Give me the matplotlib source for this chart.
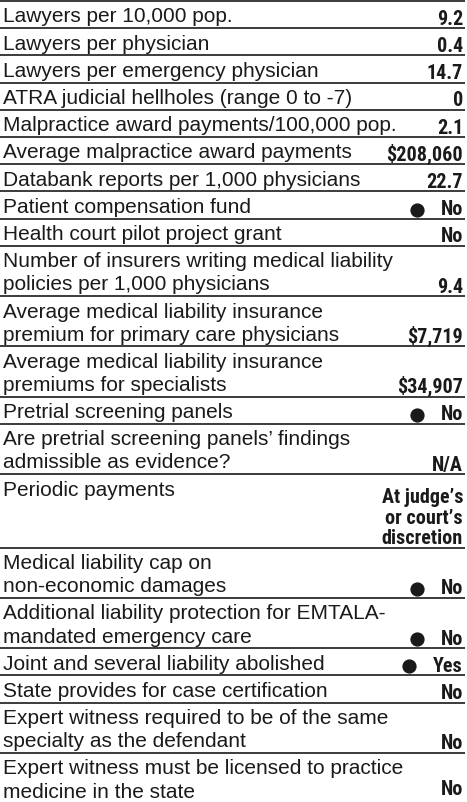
import matplotlib
matplotlib.use("Agg")
import matplotlib.pyplot as plt
from matplotlib import font_manager

# rows of the state scorecard table
labels = [
    "Lawyers per 10,000 pop.",
    "Lawyers per physician",
    "Lawyers per emergency physician",
    "ATRA judicial hellholes (range 0 to -7)",
    "Malpractice award payments/100,000 pop.",
    "Average malpractice award payments",
    "Databank reports per 1,000 physicians",
    "Patient compensation fund",
    "Health court pilot project grant",
    "Number of insurers writing medical liability\npolicies per 1,000 physicians",
    "Average medical liability insurance\npremium for primary care physicians",
    "Average medical liability insurance\npremiums for specialists",
    "Pretrial screening panels",
    "Are pretrial screening panels\u2019 findings\nadmissible as evidence?",
    "Periodic payments",
    "Medical liability cap on\nnon-economic damages",
    "Additional liability protection for EMTALA-\nmandated emergency care",
    "Joint and several liability abolished",
    "State provides for case certification",
    "Expert witness required to be of the same\nspecialty as the defendant",
    "Expert witness must be licensed to practice\nmedicine in the state",
]
values = [
    "9.2", "0.4", "14.7", "0", "2.1", "$208,060", "22.7", "No", "No",
    "9.4", "$7,719", "$34,907", "No", "N/A",
    "At judge\u2019s\nor court\u2019s\ndiscretion",
    "No", "No", "Yes", "No", "No", "No",
]
has_dot = [False, False, False, False, False, False, False, True, False,
           False, False, False, True, False, False, True, True, True,
           False, False, False]

W, H = 467, 802
ROW1 = 27.2      # height of a one-line row (px)
ROWX = 23.1      # extra height per extra line
INK = "#1a1a1a"

# pick a bold condensed face for the values if one is installed
names = {f.name for f in font_manager.fontManager.ttflist}
val_font = dict(family="DejaVu Sans", fontstretch="condensed", fontsize=13)
for cand in ["Roboto Condensed", "Liberation Sans Narrow", "Open Sans Condensed",
             "DejaVu Sans Condensed"]:
    if cand in names:
        val_font = dict(family=cand, fontsize=14.5)
        break

fig = plt.figure(figsize=(W / 100, H / 100), dpi=100)
ax = fig.add_axes([0, 0, 1, 1])
ax.set_xlim(0, W)
ax.set_ylim(H, 0)
ax.axis("off")
renderer = fig.canvas.get_renderer()

top = 1.0
ax.plot([0, 465], [top, top], color=INK, lw=1.2, solid_capstyle="butt")
for lab, val, dot in zip(labels, values, has_dot):
    lab_lines = lab.split("\n")
    val_lines = val.split("\n")
    n = max(len(lab_lines), len(val_lines))
    bottom = top + ROW1 + ROWX * (n - 1)

    for i, line in enumerate(lab_lines):
        ax.text(3, top + 21.5 + ROWX * i, line, fontsize=15, family="Liberation Sans",
                color=INK, va="baseline", ha="left", parse_math=False)
    base = min(bottom - 3.5, H - 7)
    last = None
    for i, line in enumerate(reversed(val_lines)):
        t = ax.text(463, base - 20.5 * i, line, fontweight="bold", color=INK,
                    va="baseline", ha="right", parse_math=False, **val_font)
        if last is None:
            last = t
    if dot:
        # dot sits a fixed gap to the left of the value text
        x0 = last.get_window_extent(renderer).x0
        ax.scatter([x0 - 24], [bottom - 9], s=105, color=INK, marker="o", linewidths=0)

    if bottom < H - 2:
        ax.plot([0, 465], [bottom, bottom], color=INK, lw=1.2, solid_capstyle="butt")
    top = bottom

fig.savefig("out.png", dpi=100)
